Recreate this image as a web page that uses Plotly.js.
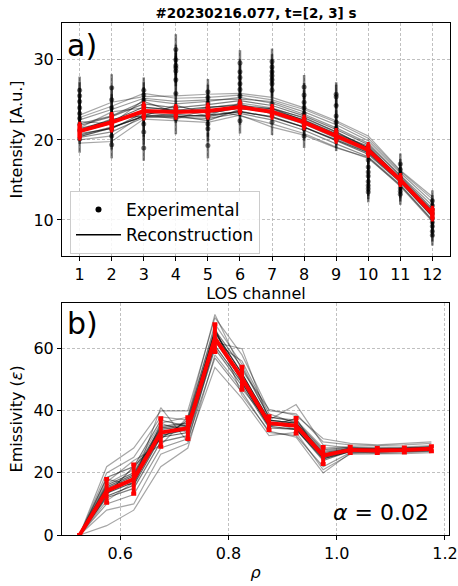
<!DOCTYPE html>
<html>
<head>
<meta charset="utf-8">
<script src="https://cdn.plot.ly/plotly-3.0.1.min.js"></script>
<style>html,body{margin:0;padding:0;background:#fff;}#chart{width:458px;height:586px;}</style>
</head>
<body>
<div id="chart"></div>
<script>
// ---------- Panel a) data ----------
const channels = [1,2,3,4,5,6,7,8,9,10,11,12];
const channelLabels = ["1","2","3","4","5","6","7","8","9","10","11","12"];
// experimental samples per channel
const expSamples = [
  [26.2, 25.5, 24.8, 24.0, 23.3, 22.7, 22.0, 21.2, 20.1],
  [26.5, 25.0, 24.0, 23.2, 22.5, 22.0, 21.3, 20.5, 19.4],
  [26.2, 25.6, 25.0, 24.3, 23.6, 22.8, 22.0, 21.0, 19.0],
  [31.3, 30.0, 29.3, 29.0, 28.6, 27.5, 25.8, 24.0, 22.6],
  [26.0, 25.3, 24.6, 24.0, 23.4, 22.8, 22.0, 21.4, 19.3],
  [29.6, 28.5, 27.8, 27.0, 26.3, 25.5, 24.6, 23.5, 22.4],
  [29.8, 29.1, 28.5, 28.0, 27.5, 27.0, 26.2, 24.5, 22.2],
  [26.6, 25.6, 24.7, 24.0, 23.3, 22.6, 22.0, 21.4, 20.5],
  [25.7, 25.4, 24.3, 23.0, 22.2, 21.5, 21.0, 20.5, 20.1],
  [18.3, 17.5, 16.6, 16.0, 15.5, 14.8, 14.3, 13.9, 13.5],
  [17.0, 16.3, 15.8, 15.3, 14.9, 14.5, 14.0, 13.6, 13.2],
  [12.4, 11.8, 11.3, 10.8, 10.2,  9.7,  9.2,  8.6,  8.1]
];
const expErr = [1.7, 1.7, 1.6, 1.9, 1.6, 1.6, 1.6, 1.5, 1.5, 1.3, 1.3, 1.3];

// reconstructions (ensemble)
const recA = [22.8, 24.2, 25.8, 25.2, 25.3, 25.6, 25.0, 23.8, 22.2, 20.2, 16.1, 12.6];
const recB = [20.3, 21.0, 22.8, 22.8, 22.7, 23.3, 22.5, 21.2, 19.5, 17.9, 14.4, 10.0];
const recC = [21.8, 22.9, 24.5, 24.0, 24.4, 24.9, 24.3, 23.0, 21.3, 19.4, 15.5, 11.4];
const recD = [20.6, 21.6, 22.9, 23.2, 22.9, 23.6, 22.8, 21.6, 19.9, 18.2, 14.7, 10.4];
const recE = [21.5, 23.5, 24.0, 23.8, 23.0, 24.6, 24.0, 22.7, 21.0, 19.0, 15.2, 11.0];
const recF = [22.3, 22.0, 25.0, 24.5, 24.8, 25.3, 24.6, 23.2, 21.5, 19.6, 15.6, 11.8];
const recG = [20.0, 20.5, 23.2, 22.6, 23.9, 23.0, 22.0, 20.8, 19.1, 17.7, 14.3,  9.9];
const recH = [21.2, 22.6, 23.0, 24.3, 23.3, 24.0, 23.7, 22.5, 20.8, 19.2, 15.1, 10.9];
const recI = [22.0, 23.0, 24.8, 23.4, 24.0, 24.5, 23.2, 22.0, 20.2, 18.5, 14.9, 10.6];
const recJ = [20.8, 21.4, 23.4, 23.0, 22.4, 23.8, 23.9, 22.8, 21.0, 19.0, 15.3, 11.2];
const recK = [19.6, 19.8, 22.6, 22.4, 22.2, 23.1, 21.6, 20.6, 19.0, 17.8, 14.2,  9.8];
const recL = [23.1, 24.7, 25.4, 25.5, 25.7, 25.8, 25.3, 24.0, 22.4, 20.5, 16.2, 12.9];
const recM = [21.0, 22.1, 23.5, 23.4, 23.5, 24.0, 23.4, 22.1, 20.4, 18.7, 14.9, 10.7];
const recN = [20.4, 21.5, 23.0, 22.9, 23.1, 23.5, 22.9, 21.6, 20.0, 18.4, 14.8, 10.5];
const recO = [22.5, 23.8, 25.2, 24.8, 25.0, 25.1, 24.8, 23.5, 21.9, 19.9, 15.9, 12.2];
const recP = [21.4, 22.4, 24.1, 23.7, 24.1, 24.3, 23.9, 22.4, 20.7, 19.0, 15.0, 11.1];
const reconTop = [recA, recB, recC, recD, recE, recF, recG, recH, recI, recJ, recK, recL, recM, recN, recO, recP];

const meanTop = [21.1, 22.2, 23.6, 23.5, 23.6, 24.1, 23.5, 22.2, 20.5, 18.75, 15.0, 10.8];
const meanTopErr = [0.9, 1.0, 0.9, 0.7, 0.8, 0.7, 0.7, 0.7, 0.7, 0.7, 0.6, 0.7];

// ---------- Panel b) data ----------
const rho = [0.525, 0.575, 0.625, 0.675, 0.725, 0.775, 0.825, 0.875, 0.925, 0.975, 1.025, 1.075, 1.125, 1.175];
const rb1  = [0, 20, 25, 38, 37, 68, 55, 38, 37, 28, 28.5, 28.2, 28.4, 28.8];
const rb2  = [0, 10, 13, 28, 31, 57, 46, 33, 32, 22, 26.5, 26.3, 26.5, 27.0];
const rb3  = [0, 16, 20, 35, 36, 65, 52, 37, 36, 26, 27.8, 27.6, 27.9, 28.2];
const rb4  = [0, 12, 15, 30, 32, 60, 48, 34.5, 34, 24, 27.0, 26.8, 27.0, 27.4];
const rb5  = [0, 22, 28, 40, 40, 70, 58, 40, 39, 30, 29.0, 28.8, 29.0, 29.5];
const rb6  = [0, 8, 10, 26, 29.5, 54, 44, 32, 33, 21, 26.0, 26.0, 26.2, 26.5];
const rb7  = [0, 18, 16, 36, 33, 62, 56, 39, 36, 27, 28.0, 27.5, 27.7, 28.0];
const rb8  = [0, 13, 22, 31, 37, 66, 49, 35, 37.5, 24.5, 27.2, 27.0, 27.3, 27.6];
const rb9  = [0, 3, 8, 22, 28, 58, 47, 36.5, 34, 25, 27.0, 27.3, 27.5, 27.9];
const rb10 = [0, 15, 19, 34, 35, 64, 51, 36, 35.5, 26, 27.5, 27.3, 27.5, 27.9];
const rb11 = [0, 11, 17, 41, 30, 62, 60, 37, 42, 29, 28.0, 27.8, 28.0, 28.3];
const rb12 = [0, 17, 24, 29, 38, 67, 45, 33.5, 31.5, 20, 26.3, 26.8, 27.0, 27.2];
const rb13 = [0, 14, 18, 33, 34.5, 63, 50, 36, 35, 25.5, 27.4, 27.2, 27.4, 27.8];
const rb14 = [0, 16.5, 21, 36, 38, 71, 53, 40.5, 38.5, 31, 29.5, 29.0, 29.5, 30.0];
const rb15 = [0, 12.5, 16, 31.5, 33, 61, 49, 35, 34, 24.5, 26.8, 26.7, 26.9, 27.2];
const rb16 = [0, 15.5, 19.5, 34.5, 35.5, 65.5, 52, 37, 36, 26.5, 27.8, 27.6, 27.8, 28.1];
const rb17 = [0, 13.5, 17, 32, 34, 62.5, 50, 35.5, 35, 25, 27.2, 27.0, 27.2, 27.6];
const rb18 = [0, 18.5, 22, 37, 35, 66, 54, 38, 36.5, 27.5, 28.2, 27.9, 28.1, 28.5];
const reconBot = [rb1, rb2, rb3, rb4, rb5, rb6, rb7, rb8, rb9, rb10, rb11, rb12, rb13, rb14, rb15, rb16, rb17, rb18];

const meanBot = [0, 14.2, 18, 33, 34.4, 63.4, 50.5, 36, 35.2, 25.6, 27.4, 27.2, 27.4, 27.8];
const meanBotErr = [0, 3.8, 4.7, 4.6, 3.5, 4.5, 3.7, 2.2, 2.5, 2.7, 1.0, 0.8, 0.8, 0.8];

// ---------- traces ----------
const traces = [];
const opac = [0.35,0.45,0.5,0.55,0.35,0.4,0.35,0.55,0.45,0.5,0.35,0.35,0.7,0.65,0.4,0.6];
reconTop.forEach((r, i) => traces.push({
  x: channels, y: r, type: 'scatter', mode: 'lines', xaxis: 'x', yaxis: 'y',
  line: {color: '#000', width: 1.2}, opacity: opac[i % opac.length], showlegend: false, hoverinfo: 'skip'
}));

const ex = [], ey = [], ee = [];
expSamples.forEach((s, i) => s.forEach(v => { ex.push(channels[i]); ey.push(v); ee.push(expErr[i]); }));
traces.push({
  x: ex, y: ey, type: 'scatter', mode: 'markers', xaxis: 'x', yaxis: 'y',
  marker: {color: 'rgba(0,0,0,0.55)', size: 5},
  error_y: {type: 'data', array: ee, visible: true, color: 'rgba(0,0,0,0.5)', thickness: 2.5, width: 0},
  showlegend: false, hoverinfo: 'skip'
});

traces.push({
  x: channels, y: meanTop, type: 'scatter', mode: 'lines', xaxis: 'x', yaxis: 'y',
  line: {color: '#ff0000', width: 4},
  error_y: {type: 'data', array: meanTopErr, visible: true, color: '#ff0000', thickness: 4.5, width: 1.5},
  showlegend: false
});

// legend entries
traces.push({x: [null], y: [null], type: 'scatter', mode: 'markers', name: 'Experimental',
  marker: {color: '#000', size: 6, symbol: 'circle'}, xaxis: 'x', yaxis: 'y'});
traces.push({x: [null], y: [null], type: 'scatter', mode: 'lines', name: 'Reconstruction',
  line: {color: '#000', width: 1.5}, xaxis: 'x', yaxis: 'y'});

const opacB = [0.35,0.4,0.55,0.5,0.35,0.35,0.4,0.5,0.35,0.6,0.35,0.35,0.7,0.35,0.6,0.6,0.65,0.5];
reconBot.forEach((r, i) => traces.push({
  x: rho, y: r, type: 'scatter', mode: 'lines', xaxis: 'x2', yaxis: 'y2',
  line: {color: '#000', width: 1.2}, opacity: opacB[i % opacB.length], showlegend: false, hoverinfo: 'skip'
}));
traces.push({
  x: rho, y: meanBot, type: 'scatter', mode: 'lines', xaxis: 'x2', yaxis: 'y2',
  line: {color: '#ff0000', width: 4},
  error_y: {type: 'data', array: meanBotErr, visible: true, color: '#ff0000', thickness: 4, width: 2.5},
  showlegend: false
});

// ---------- layout ----------
const FONT = 'DejaVu Sans, sans-serif';
const W = 458, H = 586;
const axBase = {
  showline: true, mirror: true, linecolor: '#000', linewidth: 1,
  ticks: 'outside', ticklen: 4, tickcolor: '#000', tickwidth: 1,
  showgrid: true, gridcolor: '#b0b0b0', griddash: '3px,2px', gridwidth: 0.8,
  zeroline: false, tickfont: {family: FONT, size: 16, color: '#000'}
};

const layout = {
  width: W, height: H,
  margin: {l: 0, r: 0, t: 0, b: 0},
  paper_bgcolor: '#fff', plot_bgcolor: '#fff',
  font: {family: FONT, color: '#000'},
  title: {text: '<b>#20230216.077, t=[2, 3] s</b>', font: {family: FONT, size: 13.5, color: '#000'},
          x: 256 / W, xanchor: 'center', y: 1 - 13 / H, yanchor: 'middle'},
  xaxis: Object.assign({}, axBase, {
    domain: [62 / W, 450 / W], anchor: 'y', range: [0.45, 12.55],
    tickvals: channels, ticktext: channelLabels,
    title: {text: 'LOS channel', font: {family: FONT, size: 16}, standoff: 2}
  }),
  yaxis: Object.assign({}, axBase, {
    domain: [1 - 256 / H, 1 - 23 / H], anchor: 'x', range: [5.5, 34.6],
    tickvals: [10, 20, 30],
    title: {text: 'Intensity [A.u.]', font: {family: FONT, size: 16}, standoff: 6}
  }),
  xaxis2: Object.assign({}, axBase, {
    domain: [62 / W, 449 / W], anchor: 'y2', range: [0.4925, 1.2075],
    tickvals: [0.6, 0.8, 1.0, 1.2], ticktext: ['0.6', '0.8', '1.0', '1.2'],
    title: {text: '<i>ρ</i>', font: {family: FONT, size: 16}, standoff: 4}
  }),
  yaxis2: Object.assign({}, axBase, {
    domain: [1 - 535 / H, 1 - 302.7 / H], anchor: 'x2', range: [0, 74.8],
    tickvals: [0, 20, 40, 60],
    title: {text: 'Emissivity (<i>ε</i>)', font: {family: FONT, size: 16}, standoff: 6}
  }),
  legend: {
    x: 70 / W, y: 1 - 191 / H, xanchor: 'left', yanchor: 'top',
    bgcolor: 'rgba(255,255,255,0.85)', bordercolor: '#cccccc', borderwidth: 1,
    font: {family: FONT, size: 17, color: '#000'}, itemwidth: 45, tracegroupgap: 0
  },
  annotations: [
    {text: 'a)', xref: 'paper', yref: 'paper', x: 65 / W, y: 1 - 26 / H, xanchor: 'left', yanchor: 'top',
     showarrow: false, font: {family: FONT, size: 30, color: '#000'}},
    {text: 'b)', xref: 'paper', yref: 'paper', x: 65 / W, y: 1 - 304 / H, xanchor: 'left', yanchor: 'top',
     showarrow: false, font: {family: FONT, size: 30, color: '#000'}},
    {text: '<i>α</i> = 0.02', xref: 'paper', yref: 'paper', x: 431 / W, y: 1 - 512 / H, xanchor: 'right', yanchor: 'middle',
     showarrow: false, font: {family: FONT, size: 22, color: '#000'}}
  ]
};

Plotly.newPlot('chart', traces, layout, {displayModeBar: false, staticPlot: true});
</script>
</body>
</html>
